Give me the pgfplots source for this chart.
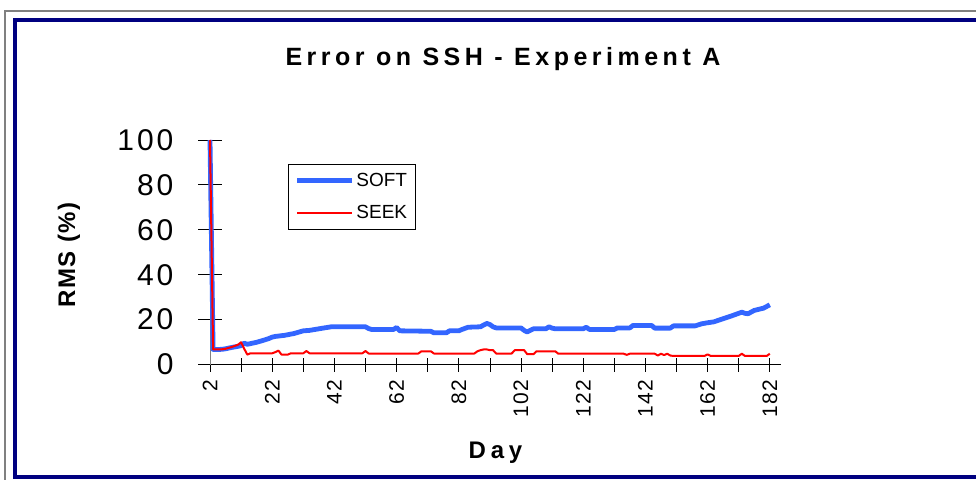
\documentclass[border=0pt]{standalone}
\usepackage{pgfplots}
\pgfplotsset{compat=1.18}
\usepackage{fontspec}
\setmainfont{Liberation Sans}
\newfontfamily\titlefont[LetterSpace=18]{Liberation Sans}
\newfontfamily\labfont[LetterSpace=20]{Liberation Sans}
\newfontfamily\ylabfont[LetterSpace=6]{Liberation Sans}
\newfontfamily\ytickfont[LetterSpace=10]{Liberation Sans}
\newfontfamily\xtickfont[LetterSpace=6]{Liberation Sans}
\definecolor{softblue}{RGB}{51,102,255}
\definecolor{frameblue}{RGB}{0,0,128}
\begin{document}
\begin{tikzpicture}
\begin{scope}
\clip (0,0) rectangle (976pt,479pt);
\draw[gray, line width=2pt] (5pt,-10pt) -- (5pt,468pt) -- (990pt,468pt);
\draw[frameblue, line width=3.5pt] (15pt,2pt) rectangle (990pt,459pt);
\end{scope}
\begin{axis}[
  at={(210pt,114.5pt)}, anchor=south west,
  scale only axis, width=571pt, height=224.5pt,
  xmin=2, xmax=185.6, ymin=0, ymax=100,
  axis x line*=bottom, axis y line*=left,
  clip=false,
  /pgf/number format/assume math mode=true,
  xtick={2,22,...,182},
  minor xtick={2,12,...,182},
  ytick={0,20,...,100},
  tick align=center,
  major tick length=24pt,
  minor tick length=14pt,
  major x tick style={draw=none},
  minor x tick style={black, line width=0.8pt},
  y tick style={black, line width=0.8pt},
  x axis line style={black, line width=0.8pt},
  y axis line style={gray, line width=0.8pt},
  yticklabel style={font=\ytickfont\fontsize{30}{30}\selectfont, anchor=east, xshift=-21pt},
  xticklabel style={font=\xtickfont\fontsize{21}{21}\selectfont, rotate=90, anchor=east},
  title={Error on SSH - Experiment A},
  title style={font=\titlefont\bfseries\fontsize{25}{28}\selectfont, at={(axis description cs:0.513,1.304)}, anchor=base},
  xlabel={Day},
  xlabel style={font=\labfont\bfseries\fontsize{24}{28}\selectfont, at={(axis description cs:0.5,-0.4165)}, anchor=base},
  ylabel={RMS (\%)},
  ylabel style={font=\ylabfont\bfseries\fontsize{24}{28}\selectfont, at={(axis description cs:-0.247,0.488)}, anchor=center},
  legend cell align=left,
  legend image code/.code={\draw[#1] (0pt,0pt) -- (55pt,0pt);},
  legend style={at={(axis description cs:0.137,0.893)}, anchor=north west, draw=black, line width=0.8pt,
    font=\fontsize{19}{19}\selectfont, row sep=13pt, inner xsep=6pt, inner ysep=7pt},
]
\addplot[softblue, line width=4.8pt, line join=round] table {
x y
2 100
3 6.7
5 6.7
6 6.8
7 7.0
9 7.6
11 8.1
12 8.4
13 9.5
14 9.0
17 9.9
19 10.7
21 11.6
22 12.2
23 12.5
26 13.0
29 13.8
31 14.6
32 15.0
34 15.2
37 15.9
41 16.8
52 16.8
53 16.0
54 15.6
61 15.6
62 16.5
63 15.0
73 14.8
74 14.1
78 14.1
79 15.0
82 15.0
83 15.6
85 16.6
89 16.8
90 17.6
91 18.3
92 17.8
93 16.8
94 16.3
102 16.3
103 15.2
104 14.5
105 15.2
106 15.9
110 15.9
111 16.8
112 16.2
113 15.9
122 15.9
123 16.6
124 15.6
132 15.6
133 16.3
137 16.3
138 17.4
144 17.4
145 16.2
150 16.2
151 17.2
158 17.2
160 18.1
162 18.6
164 19.0
167 20.4
170 21.8
173 23.3
174 22.8
175 22.6
177 24.1
180 25.1
182 26.6
};
\addlegendentry{SOFT}
\addplot[red, line width=2pt, line join=round] table {
x y
2 100
3 6.7
5 6.7
6 6.8
7 7.0
9 7.8
11 8.8
12 9.9
13 7.0
14 4.4
15 5.0
22 5.0
23 5.5
24 6.2
25 4.4
27 4.4
28 5.0
32 5.0
33 6.0
34 5.0
51 5.0
52 6.0
53 4.9
69 4.9
70 5.9
73 5.9
74 4.9
87 4.9
88 5.9
89 6.4
90 6.7
91 6.7
92 6.4
93 6.4
94 4.9
99 4.9
100 6.4
103 6.4
104 4.6
106 4.6
107 5.9
113 5.9
114 4.8
135 4.8
136 4.3
137 4.8
145 4.8
146 4.0
147 4.8
148 4.2
149 4.8
150 4.0
151 3.8
161 3.8
162 4.5
163 3.8
172 3.8
173 4.8
174 3.8
181 3.8
182 4.8
};
\addlegendentry{SEEK}
\end{axis}
\pgfresetboundingbox
\path[use as bounding box] (0,0) rectangle (976pt,479pt);
\end{tikzpicture}
\end{document}
